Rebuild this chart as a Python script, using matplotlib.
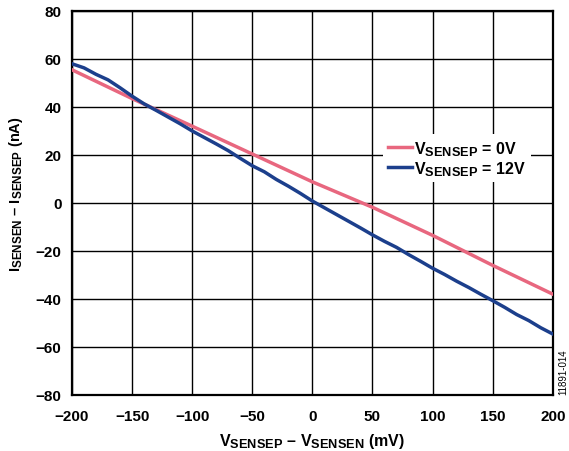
import matplotlib
matplotlib.use("Agg")
import matplotlib.pyplot as plt
import matplotlib._mathtext as _mt

# larger subscripts, as in the reference typography
_mt.SHRINK_FACTOR = 0.8

plt.rcParams['font.family'] = ['Liberation Sans', 'DejaVu Sans']
plt.rcParams['font.weight'] = 'bold'
plt.rcParams['mathtext.fontset'] = 'custom'
plt.rcParams['mathtext.rm'] = 'Liberation Sans:bold'
plt.rcParams['mathtext.it'] = 'Liberation Sans:bold'
plt.rcParams['mathtext.bf'] = 'Liberation Sans:bold'

# Data
v_pink = [-200, -150, -100, -50, 0, 50, 100, 150, 200]
i_pink = [55.5, 43.5, 32.0, 20.4, 8.8, -1.8, -13.5, -26.0, -38.0]

v_blue = list(range(-200, 201, 10))
i_blue = [58.0, 56.3, 53.6, 51.3, 48.0, 44.5, 41.3, 38.6, 35.8, 33.0,
          30.0, 27.3, 24.6, 21.8, 18.6, 15.5, 13.0, 9.8, 7.0, 4.0,
          0.8, -2.0, -4.8, -7.6, -10.4, -13.3, -16.0, -18.5, -21.5, -24.3,
          -27.2, -29.8, -32.6, -35.2, -38.0, -40.7, -43.5, -46.5, -49.0, -52.0,
          -54.6]

label_pink = r'V$_{\mathrm{SENSEP}}$ = 0V'
label_blue = r'V$_{\mathrm{SENSEP}}$ = 12V'
x_ticks = [-200, -150, -100, -50, 0, 50, 100, 150, 200]
y_ticks = [-80, -60, -40, -20, 0, 20, 40, 60, 80]

fig = plt.figure(figsize=(5.69, 4.52), dpi=100)
ax = fig.add_axes([0.1265, 0.124, 0.845, 0.8495])

ax.plot(v_pink, i_pink, color='#E8677F', lw=2.5, label=label_pink, zorder=3)
ax.plot(v_blue, i_blue, color='#1C3F8C', lw=2.5, label=label_blue, zorder=3)

ax.set_xlim(-200, 200)
ax.set_ylim(-80, 80)
ax.set_xticks(x_ticks)
ax.set_yticks(y_ticks)
ax.grid(True, color='black', lw=1.0)
ax.tick_params(length=0, labelsize=11)
ax.tick_params(axis='x', pad=10)
ax.tick_params(axis='y', pad=7.5)
for lab in ax.get_xticklabels() + ax.get_yticklabels():
    lab.set_fontweight('bold')
for s in ax.spines.values():
    s.set_linewidth(1.6)
    s.set_color('black')

ax.set_xlabel(r'V$_{\mathrm{SENSEP}}$ – V$_{\mathrm{SENSEN}}$ (mV)', fontsize=11.5, fontweight='bold')
ax.set_ylabel(r'I$_{\mathrm{SENSEN}}$ – I$_{\mathrm{SENSEP}}$ (nA)', fontsize=10.5, fontweight='bold')
ax.xaxis.set_label_coords(0.5, -0.093)
ax.yaxis.set_label_coords(-0.097, 0.525)

leg = ax.legend(loc='upper left', bbox_to_anchor=(0.63, 0.70), frameon=True,
                fancybox=False, edgecolor='none', framealpha=1.0,
                fontsize=11.5, handlelength=1.5, handletextpad=0.15,
                borderpad=0.3, labelspacing=0.08)
for t in leg.get_texts():
    t.set_fontweight('bold')

fig.text(0.99, 0.125, '11891-014', rotation=90, fontsize=7, fontweight='normal',
         ha='center', va='bottom')

fig.savefig('out.png', dpi=100)
